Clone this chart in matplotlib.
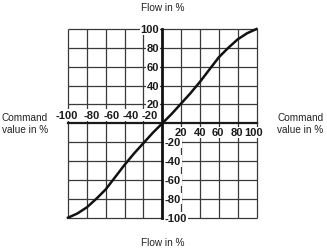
import matplotlib
matplotlib.use("Agg")
import matplotlib.pyplot as plt

# ---- data ----
command = [-100, -90, -80, -70, -60, -50, -40, -30, -20, -10, 0,
           10, 20, 30, 40, 50, 60, 70, 80, 90, 100]
flow = [-100, -95.5, -89, -80, -70, -57, -44, -32, -21, -10, 0,
        10, 21, 32, 44, 57, 70, 80, 89, 95.5, 100]

grid_ticks = [-100, -80, -60, -40, -20, 0, 20, 40, 60, 80, 100]
y_labels_top = ["100", "80", "60", "40", "20"]
y_values_top = [100, 80, 60, 40, 20]
y_labels_bot = ["-20", "-40", "-60", "-80", "-100"]
y_values_bot = [-20, -40, -60, -80, -100]
x_labels_left = ["-100", "-80", "-60", "-40", "-20"]
x_pos_left = [-101.5, -75, -54, -33, -13]
x_labels_right = ["20", "40", "60", "80", "100"]
x_pos_right = [20, 40, 59, 79, 97]

title_text = "Flow in %"
side_text = "Command\nvalue in %"

W, H = 327, 251
fig = plt.figure(figsize=(W / 100, H / 100), dpi=100)
fig.patch.set_facecolor("white")

fam_bold = ["Liberation Sans", "DejaVu Sans"]
fam = ["Liberation Sans", "DejaVu Sans"]

ax = fig.add_axes([68 / W, (H - 218.7) / H, 188.5 / W, 188.7 / H])
ax.set_xlim(-100, 100)
ax.set_ylim(-100, 100)
ax.axis("off")

gc = "#3a3a3a"
for t in grid_ticks:
    if t == 0:
        continue
    ax.plot([t, t], [-100, 100], color=gc, lw=0.9, zorder=1, solid_capstyle="butt", clip_on=False)
    ax.plot([-100, 100], [t, t], color=gc, lw=0.9, zorder=1, solid_capstyle="butt", clip_on=False)
ax.plot([-100, 100], [0, 0], color="#1a1a1a", lw=1.6, zorder=2, clip_on=False)

bbox = dict(facecolor="white", edgecolor="none", pad=0.5)
tkw = dict(fontsize=8, fontweight="bold", family=fam_bold, color="#1a1a1a", zorder=3, bbox=bbox, clip_on=False)

for lab, v in zip(y_labels_top, y_values_top):
    ax.text(-3.2, v, lab, ha="right", va="center", **tkw)
for lab, v in zip(y_labels_bot, y_values_bot):
    ax.text(3, v, lab, ha="left", va="center", **tkw)
for lab, v in zip(x_labels_left, x_pos_left):
    ax.text(v, 9, lab, ha="center", va="center", **tkw)
for lab, v in zip(x_labels_right, x_pos_right):
    ax.text(v, -9.5, lab, ha="center", va="center", **tkw)

ax.plot([0, 0], [-100, 100], color="#111111", lw=2.0, zorder=4, clip_on=False)
ax.plot(command, flow, color="#111111", lw=1.8, zorder=5, clip_on=False)

lkw = dict(fontsize=7.2, family=fam, color="#222222")
fig.text(163 / W, 1 - 8 / H, title_text, ha="center", va="center", **lkw)
fig.text(163 / W, 1 - 243 / H, title_text, ha="center", va="center", **lkw)
fig.text(2 / W, 1 - 124 / H, side_text, ha="left", va="center", linespacing=1.25, **lkw)
fig.text(277 / W, 1 - 124 / H, side_text, ha="left", va="center", linespacing=1.25, **lkw)

fig.savefig("out.png", dpi=100, facecolor="white")
